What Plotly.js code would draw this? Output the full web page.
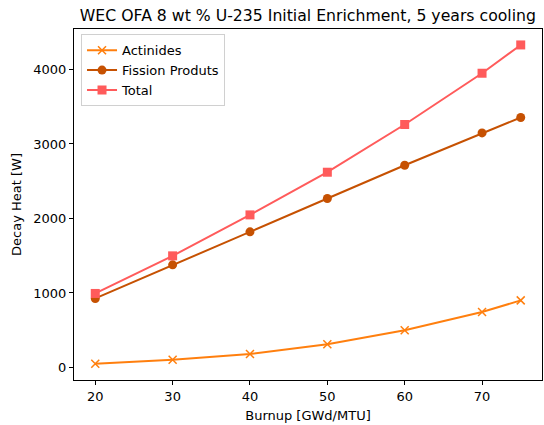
<!DOCTYPE html>
<html>
<head>
<meta charset="utf-8">
<script src="https://cdn.plot.ly/plotly-3.0.1.min.js"></script>
<style>html,body{margin:0;padding:0;background:#fff;}#chart{width:544px;height:425px;}</style>
</head>
<body>
<div id="chart"></div>
<script>
const burnup = [20, 30, 40, 50, 60, 70, 75];
const actinides = [49, 103, 179, 310, 500, 743, 900];
const fissionProducts = [926, 1377, 1820, 2268, 2715, 3149, 3356];
const total = [993, 1498, 2048, 2621, 3262, 3950, 4330];
const seriesNames = ["Actinides", "Fission Produts", "Total"];
const xTicks = [20, 30, 40, 50, 60, 70];
const yTicks = [0, 1000, 2000, 3000, 4000];

const font = {family: "DejaVu Sans, sans-serif", size: 13, color: "#000"};

const traces = [
  {x: burnup, y: actinides, name: seriesNames[0], mode: "lines+markers",
   line: {color: "#ff7f0e", width: 2},
   marker: {symbol: "x-thin", size: 8, line: {color: "#ff7f0e", width: 1.5}, color: "#ff7f0e"}},
  {x: burnup, y: fissionProducts, name: seriesNames[1], mode: "lines+markers",
   line: {color: "#c65102", width: 2},
   marker: {symbol: "circle", size: 9, color: "#c65102"}},
  {x: burnup, y: total, name: seriesNames[2], mode: "lines+markers",
   line: {color: "#ff5b5b", width: 2},
   marker: {symbol: "square", size: 9, color: "#ff5b5b"}}
];

const layout = {
  width: 544, height: 425,
  margin: {l: 74, r: 2, t: 29, b: 45},
  paper_bgcolor: "#fff", plot_bgcolor: "#fff",
  font: font,
  showlegend: true,
  title: {text: "WEC OFA 8 wt % U-235 Initial Enrichment, 5 years cooling",
          font: {family: "DejaVu Sans, sans-serif", size: 15.7, color: "#000"},
          x: 0.566, xanchor: "center", y: 0.963, yanchor: "middle"},
  xaxis: {range: [17.25, 77.75], tickvals: xTicks, ticktext: xTicks.map(String),
          showgrid: false, zeroline: false, showline: true, linecolor: "#000", linewidth: 1,
          mirror: true, ticks: "outside", ticklen: 4, tickcolor: "#000",
          title: {text: "Burnup [GWd/MTU]", font: font, standoff: 8}},
  yaxis: {range: [-169, 4544], tickvals: yTicks, ticktext: yTicks.map(String),
          showgrid: false, zeroline: false, showline: true, linecolor: "#000", linewidth: 1,
          mirror: true, ticks: "outside", ticklen: 4, tickcolor: "#000",
          title: {text: "Decay Heat [W]", font: font, standoff: 8}},
  legend: {x: 0.015, y: 0.985, xanchor: "left", yanchor: "top",
           bgcolor: "rgba(255,255,255,0.8)", bordercolor: "#d0d0d0", borderwidth: 1,
           font: font, tracegroupgap: 0, itemwidth: 30}
};

Plotly.newPlot("chart", traces, layout, {displayModeBar: false, staticPlot: true});
</script>
</body>
</html>
